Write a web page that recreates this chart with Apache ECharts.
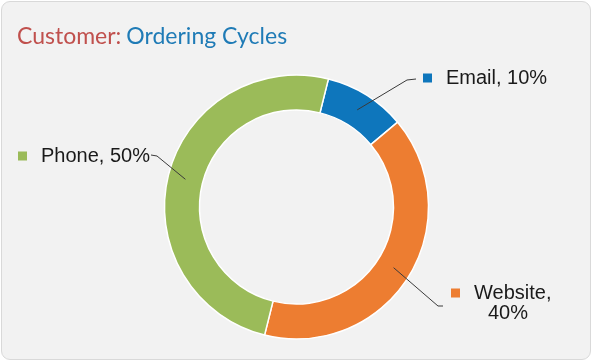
<!DOCTYPE html>
<html>
<head>
<meta charset="utf-8">
<script src="https://cdn.jsdelivr.net/npm/echarts@6/dist/echarts.min.js"></script>
<style>
  html, body { margin: 0; padding: 0; background: #ffffff; }
  #card { position: absolute; left: 1px; top: 1px; width: 588px; height: 357px;
          background: #f2f2f2; border: 1px solid #d9d9d9; border-radius: 9px; }
  #chart { position: absolute; left: 0; top: 0; width: 591px; height: 360px; }
</style>
</head>
<body>
<div id="card"></div>
<div id="chart"></div>
<script>
// ---- data ----
const titleLead = 'Customer:';
const titleRest = 'Ordering Cycles';
const categories = ['Email', 'Website', 'Phone'];
const shares = [10, 40, 50];
const sliceColors = ['#0e76bc', '#ed7d31', '#9bbb59'];
const wrapAfterComma = ['Website'];

// ---- layout ----
const pieCenter = [296.5, 207];
const pieRadius = [97, 132];
const pieStart = 76;
const labelSpots = [
  { x: 423, y: 78, elbow: [407, 80], end: [416, 79] },
  { x: 451, y: 283, elbow: [438, 306], end: [443, 306] },
  { x: 18, y: 156, elbow: [157, 156], end: [151, 155] }
];

// leader line starts at the middle of the ring, at the slice's mid-angle
function ringMidPoint(i) {
  const total = shares.reduce((a, b) => a + b, 0);
  let before = 0;
  for (let k = 0; k < i; k++) before += shares[k];
  const ang = (pieStart - (before + shares[i] / 2) / total * 360) * Math.PI / 180;
  const r = (pieRadius[0] + pieRadius[1]) / 2;
  return [pieCenter[0] + r * Math.cos(ang), pieCenter[1] - r * Math.sin(ang)];
}

const chart = echarts.init(document.getElementById('chart'), null, { renderer: 'canvas' });

const rich = {
  t: { fontFamily: 'Liberation Sans, Arial, sans-serif', fontSize: 20, color: '#1a1a1a', padding: [0, 0, 0, 14] },
  u: { fontFamily: 'Liberation Sans, Arial, sans-serif', fontSize: 20, color: '#1a1a1a' },
  sp: { width: 37 }
};
sliceColors.forEach((c, i) => { rich['sq' + i] = { width: 9, height: 9, backgroundColor: c }; });

const pieData = categories.map((name, i) => ({ name: name, value: shares[i], itemStyle: { color: sliceColors[i] } }));

const option = {
  backgroundColor: 'transparent',
  animation: false,
  title: {
    left: 12,
    top: 20,
    text: '{a|' + titleLead + '} {b|' + titleRest + '}',
    textStyle: {
      fontWeight: 'normal',
      rich: {
        a: { fontFamily: 'Lato', fontWeight: 'normal', fontSize: 23, color: '#c0504d' },
        b: { fontFamily: 'Lato', fontWeight: 'normal', fontSize: 23, color: '#1f7bb6' }
      }
    }
  },
  series: [{
    // the ring itself
    type: 'pie',
    z: 2,
    center: pieCenter,
    radius: pieRadius,
    startAngle: pieStart,
    clockwise: true,
    silent: true,
    itemStyle: { borderColor: '#ffffff', borderWidth: 1.5 },
    label: { show: false },
    labelLine: { show: false },
    data: pieData
  }, {
    // same slices drawn transparent on top, carrying labels and leader lines
    type: 'pie',
    z: 5,
    center: pieCenter,
    radius: pieRadius,
    startAngle: pieStart,
    clockwise: true,
    silent: true,
    avoidLabelOverlap: false,
    itemStyle: { color: 'rgba(0,0,0,0)', borderWidth: 0 },
    data: categories.map((name, i) => ({ name: name, value: shares[i] })),
    label: {
      show: true,
      position: 'outside',
      rich: rich,
      formatter: function (p) {
        const sq = '{sq' + p.dataIndex + '|}';
        if (wrapAfterComma.indexOf(p.name) >= 0) {
          return sq + '{t|' + p.name + ',}\n{sp|}{u|' + p.value + '%}';
        }
        return sq + '{t|' + p.name + ', ' + p.value + '%}';
      }
    },
    labelLine: {
      show: true,
      length: 10,
      length2: 10,
      lineStyle: { color: '#3a3a3a', width: 1 }
    },
    labelLayout: function (params) {
      const s = labelSpots[params.dataIndex];
      return {
        x: s.x,
        y: s.y,
        align: 'left',
        verticalAlign: params.dataIndex === 1 ? 'top' : 'middle',
        labelLinePoints: [ringMidPoint(params.dataIndex), s.elbow, s.end]
      };
    }
  }]
};
chart.setOption(option);
</script>
</body>
</html>
